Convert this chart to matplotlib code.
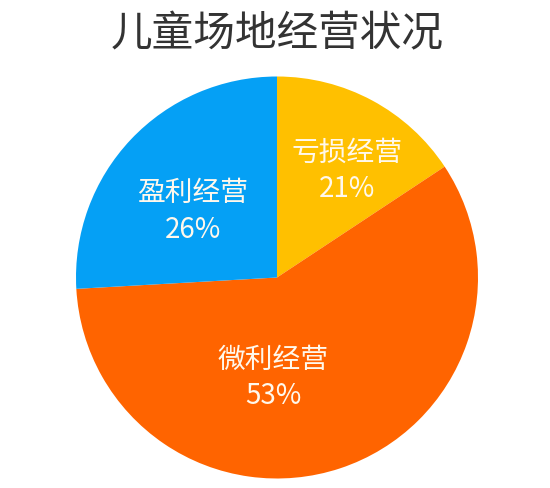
import matplotlib.pyplot as plt

plt.rcParams['font.family'] = ['Noto Sans CJK SC', 'DejaVu Sans']

# shown labels and percentages
categories = ['亏损经营', '微利经营', '盈利经营']
percents = [21, 53, 26]
# wedge sizes as they are drawn in the picture (not exactly proportional)
drawn_shares = [15.7, 58.4, 25.9]
colors = ['#FFC000', '#FF6400', '#05A0F5']

# label centres in axes data units (pie radius = 1)
label_pos = [(0.35, 0.53), (-0.02, -0.50), (-0.42, 0.33)]

fig = plt.figure(figsize=(5.5, 4.88), dpi=100)
cx, cy, r = 277, 277.5, 201
ax = fig.add_axes([(cx - r) / 550, (488 - cy - r) / 488, 2 * r / 550, 2 * r / 488])

ax.pie(drawn_shares, colors=colors, startangle=90, counterclock=False,
       radius=1, wedgeprops=dict(linewidth=0))
ax.set_xlim(-1, 1)
ax.set_ylim(-1, 1)
ax.set_aspect('equal')
ax.axis('off')

for name, pct, (x, y) in zip(categories, percents, label_pos):
    ax.text(x, y, f"{name}\n{pct}%", ha='center', va='center', fontsize=20,
            color='#FFF8EC', linespacing=1.3)

fig.text(277 / 550, 1 - 35 / 488, '儿童场地经营状况', ha='center', va='center',
         fontsize=30, color='#333333')

fig.savefig('out.png', dpi=100)
